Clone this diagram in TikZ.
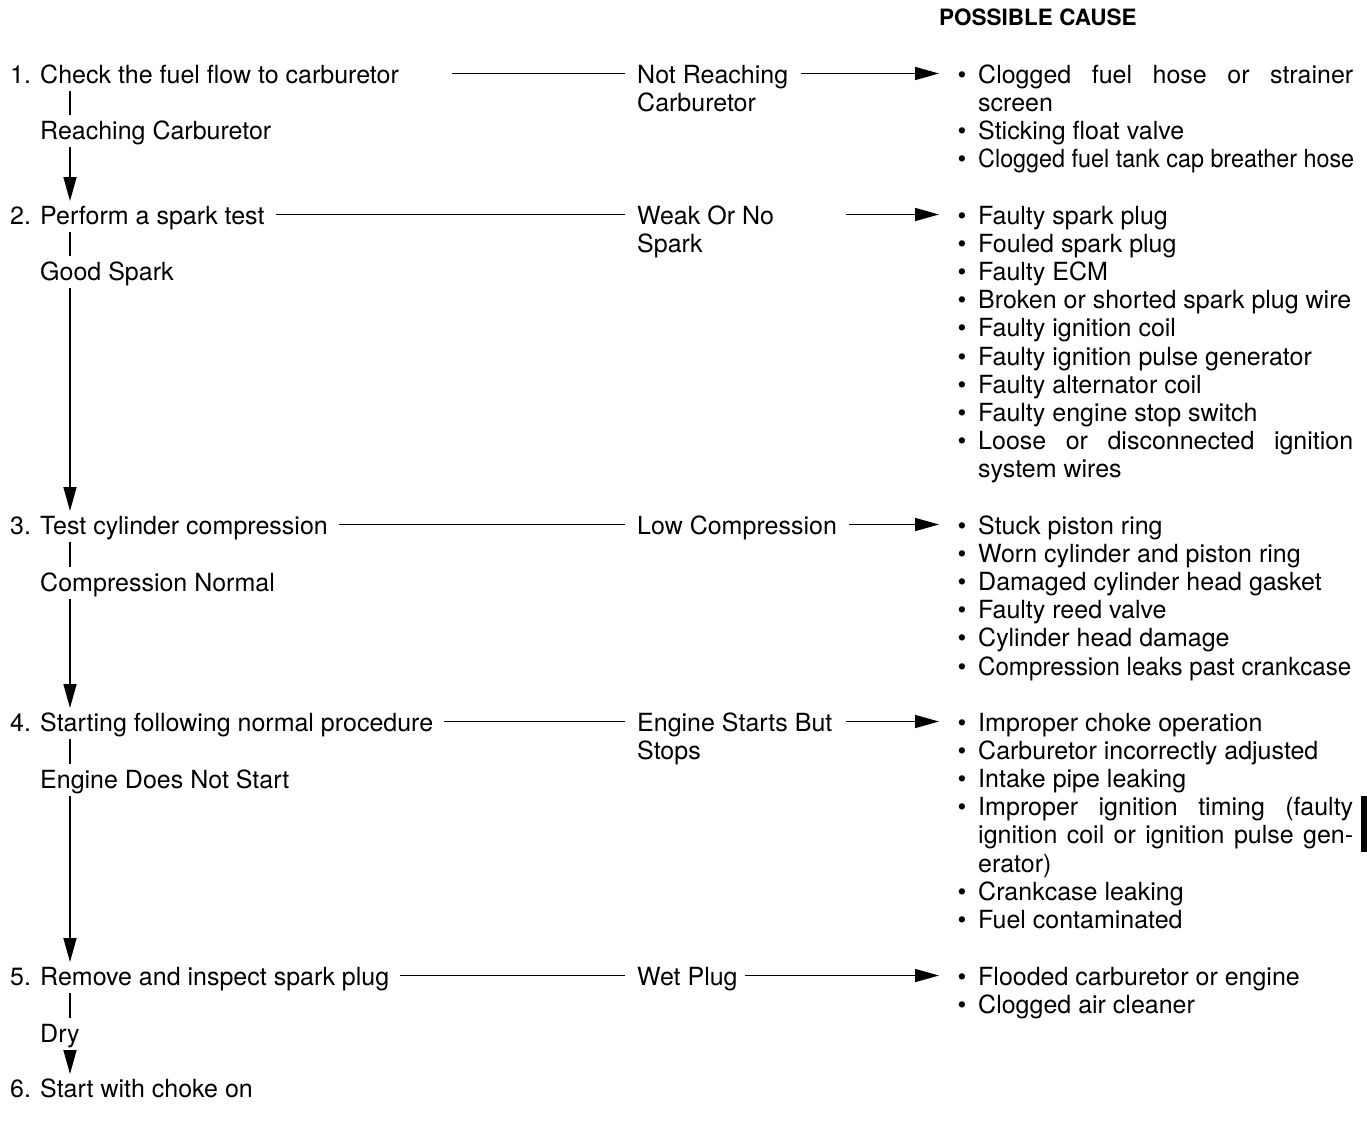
\documentclass[tikz,border=0pt]{standalone}
\usepackage{fontspec}
\usepackage{graphicx}
\setmainfont{TeX Gyre Heros}
\usetikzlibrary{arrows.meta}
\newcommand\txtsize{\fontsize{25}{28.2}\selectfont}
\newcommand\jline[1]{\makebox[375pt][s]{#1}}
\newcommand\fitto[2]{\resizebox{#1}{\height}{#2}}
\begin{document}
\begin{tikzpicture}[x=1pt,y=-1pt,
  txt/.style={anchor=base west, inner sep=0pt, text height=19pt, text depth=0pt, font=\txtsize},
  bul/.style={anchor=base, inner sep=0pt, font=\fontsize{25}{28}\selectfont},
  conn/.style={line width=1.5pt},
  arr/.style={line width=1.5pt, -{Triangle[length=24pt,width=13pt]}},
]
\newcommand\cause[3]{\node[bul] (#1b) at (962,#2) {\textbullet}; \node[txt] (#1) at (978,#2) {#3};}
\newcommand\cont[3]{\node[txt] (#1) at (978,#2) {#3};}
\useasboundingbox (0,0) rectangle (1367,1128);

% header
\node[anchor=base west, inner sep=0pt, font=\bfseries\fontsize{22.5}{24}\selectfont] (hdr) at (939,25) {POSSIBLE CAUSE};

% steps
\node[txt] (n1) at (10,83) {1.};   \node[txt] (s1) at (40,83) {Check the fuel flow to carburetor};
\node[txt] (n2) at (10,224) {2.};  \node[txt] (s2) at (40,224) {Perform a spark test};
\node[txt] (n3) at (10,534) {3.};  \node[txt] (s3) at (40,534) {Test cylinder compression};
\node[txt] (n4) at (10,731) {4.};  \node[txt] (s4) at (40,731) {Starting following normal procedure};
\node[txt] (n5) at (10,985) {5.};  \node[txt] (s5) at (40,985) {Remove and inspect spark plug};
\node[txt] (n6) at (10,1097) {6.}; \node[txt] (s6) at (40,1097) {Start with choke on};

% results (down branch)
\node[txt] (r1) at (40,139) {Reaching Carburetor};
\node[txt] (r2) at (40,280) {Good Spark};
\node[txt] (r3) at (40,591) {Compression Normal};
\node[txt] (r4) at (40,788) {Engine Does Not Start};
\node[txt] (r5) at (40,1042) {Dry};

% branch labels
\node[txt] (b1) at (637,83) {Not Reaching};      \node[txt] (b1b) at (637,111) {Carburetor};
\node[txt] (b2) at (637,224) {Weak Or No};        \node[txt] (b2b) at (637,252) {Spark};
\node[txt] (b3) at (637,534) {Low Compression};
\node[txt] (b4) at (637,731) {Engine Starts But}; \node[txt] (b4b) at (637,759) {Stops};
\node[txt] (b5) at (637,985) {Wet Plug};

% causes
\cause{c11}{83}{\jline{Clogged fuel hose or strainer}}
\cont{c11x}{111.2}{screen}
\cause{c12}{139.4}{Sticking float valve}
\cause{c13}{167.6}{\fitto{376pt}{Clogged fuel tank cap breather hose}}

\cause{c21}{224}{Faulty spark plug}
\cause{c22}{252.2}{Fouled spark plug}
\cause{c23}{280.4}{Faulty ECM}
\cause{c24}{308.6}{\fitto{373pt}{Broken or shorted spark plug wire}}
\cause{c25}{336.8}{Faulty ignition coil}
\cause{c26}{365}{Faulty ignition pulse generator}
\cause{c27}{393.2}{Faulty alternator coil}
\cause{c28}{421.4}{Faulty engine stop switch}
\cause{c29}{449.6}{\jline{Loose or disconnected ignition}}
\cont{c29x}{477.8}{system wires}

\cause{c31}{534}{Stuck piston ring}
\cause{c32}{562.2}{Worn cylinder and piston ring}
\cause{c33}{590.4}{Damaged cylinder head gasket}
\cause{c34}{618.6}{Faulty reed valve}
\cause{c35}{646.8}{Cylinder head damage}
\cause{c36}{675}{\fitto{373pt}{Compression leaks past crankcase}}

\cause{c41}{731}{Improper choke operation}
\cause{c42}{759.2}{Carburetor incorrectly adjusted}
\cause{c43}{787.4}{Intake pipe leaking}
\cause{c44}{815.6}{\jline{Improper ignition timing (faulty}}
\cont{c44x}{843.8}{\jline{ignition coil or ignition pulse gen-}}
\cont{c44y}{872}{erator)}
\cause{c45}{900.2}{Crankcase leaking}
\cause{c46}{928.4}{Fuel contaminated}

\cause{c51}{985}{Flooded carburetor or engine}
\cause{c52}{1013.2}{Clogged air cleaner}

% side tab
\fill (1361,796) rectangle (1367,852);

% vertical flow
\draw[conn] ([xshift=30pt,yshift=-8pt]s1.base west) -- ([xshift=30pt,yshift=24pt]r1.base west);
\draw[arr]  ([xshift=30pt,yshift=-8pt]r1.base west) -- ([xshift=30pt,yshift=23pt]s2.base west);
\draw[conn] ([xshift=30pt,yshift=-8pt]s2.base west) -- ([xshift=30pt,yshift=24pt]r2.base west);
\draw[arr]  ([xshift=30pt,yshift=-8pt]r2.base west) -- ([xshift=30pt,yshift=23pt]s3.base west);
\draw[conn] ([xshift=30pt,yshift=-8pt]s3.base west) -- ([xshift=30pt,yshift=24pt]r3.base west);
\draw[arr]  ([xshift=30pt,yshift=-8pt]r3.base west) -- ([xshift=30pt,yshift=23pt]s4.base west);
\draw[conn] ([xshift=30pt,yshift=-8pt]s4.base west) -- ([xshift=30pt,yshift=24pt]r4.base west);
\draw[arr]  ([xshift=30pt,yshift=-8pt]r4.base west) -- ([xshift=30pt,yshift=23pt]s5.base west);
\draw[conn] ([xshift=30pt,yshift=-8pt]s5.base west) -- ([xshift=30pt,yshift=24pt]r5.base west);
\draw[arr]  ([xshift=30pt,yshift=-8pt]r5.base west) -- ([xshift=30pt,yshift=23pt]s6.base west);

% horizontal branches
\coordinate (h1) at (452,73.5);
\draw[conn] (h1) -- ([xshift=-12pt]b1.west);
\draw[arr] ([xshift=13pt]b1.east) -- ([xshift=-39pt]c11.west);

\draw[conn] ([xshift=11pt]s2.east) -- ([xshift=-12pt]b2.west);
\coordinate (a2) at (846,214.5);
\draw[arr] (a2) -- ([xshift=-39pt]c21.west);

\draw[conn] ([xshift=11pt]s3.east) -- ([xshift=-12pt]b3.west);
\draw[arr] ([xshift=12pt]b3.east) -- ([xshift=-39pt]c31.west);

\draw[conn] ([xshift=11pt]s4.east) -- ([xshift=-12pt]b4.west);
\coordinate (a4) at (846,721.5);
\draw[arr] (a4) -- ([xshift=-39pt]c41.west);

\draw[conn] ([xshift=11pt]s5.east) -- ([xshift=-12pt]b5.west);
\draw[arr] ([xshift=7pt]b5.east) -- ([xshift=-39pt]c51.west);
\end{tikzpicture}
\end{document}
